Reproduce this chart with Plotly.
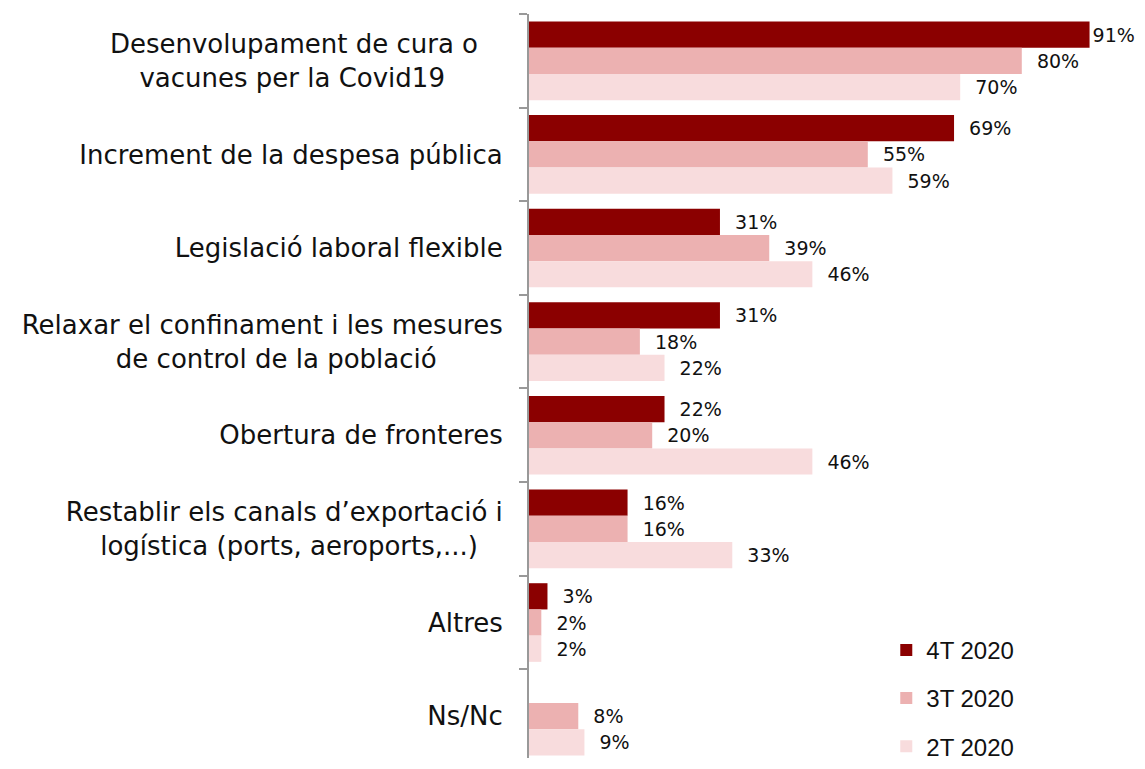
import plotly.graph_objects as go

NB = "\u00a0"
categories = [
    "Desenvolupament de cura o" + NB * 3 + "<br>vacunes per la Covid19" + NB * 7,
    "Increment de la despesa pública",
    "Legislació laboral flexible",
    "Relaxar el confinament i les mesures<br>de control de la població" + NB * 8,
    "Obertura de fronteres",
    "Restablir els canals d’exportació i<br>logística (ports, aeroports,...)" + NB * 3,
    "Altres",
    "Ns/Nc",
]
series_names = ["4T 2020", "3T 2020", "2T 2020"]
values_4t = [91, 69, 31, 31, 22, 16, 3, None]
values_3t = [80, 55, 39, 18, 20, 16, 2, 8]
values_2t = [70, 59, 46, 22, 46, 33, 2, 9]
colors = ["#8B0000", "#ECB1B1", "#F8DCDD"]

label_font = "DejaVu Sans, sans-serif"


def fmt(v):
    if v is None:
        return ""
    pad = "" if v >= 85 else NB * 2
    return f"{pad}{v}%"


fig = go.Figure()
for i, (name, vals) in enumerate(zip(series_names, [values_4t, values_3t, values_2t])):
    fig.add_trace(go.Bar(
        y=categories, x=vals, name=name, orientation="h",
        marker=dict(color=colors[i], line=dict(width=0)),
        text=[fmt(v) for v in vals],
        textposition="outside", cliponaxis=False,
        textfont=dict(family=label_font, size=19, color="#111"),
        legendgroup=name,
    ))

# page body has an 8px margin: compensate so the plot sits where the reference does
fig.update_layout(
    width=1137, height=761,
    margin=dict(l=521, r=0, t=6, b=0),
    paper_bgcolor="white", plot_bgcolor="white",
    barmode="group", bargap=0.16, bargroupgap=0,
    showlegend=True,
    legend=dict(x=0.58, y=0.175, xanchor="left", yanchor="top",
                font=dict(family="Liberation Sans, Arial, sans-serif", size=24, color="#111"),
                tracegroupgap=14, bgcolor="rgba(0,0,0,0)"),
    font=dict(family=label_font, color="#111"),
)
fig.update_xaxes(range=[0, 100], visible=False)
fig.update_yaxes(
    type="category", range=[7.447, -0.5],
    showline=True, linecolor="#999", linewidth=2,
    ticks="outside", tickson="boundaries", ticklen=8, tickcolor="#999", tickwidth=2,
    tickfont=dict(family=label_font, size=26, color="#111"),
    ticklabelstandoff=19, showgrid=False, zeroline=False,
)

fig.write_html("out.html")
